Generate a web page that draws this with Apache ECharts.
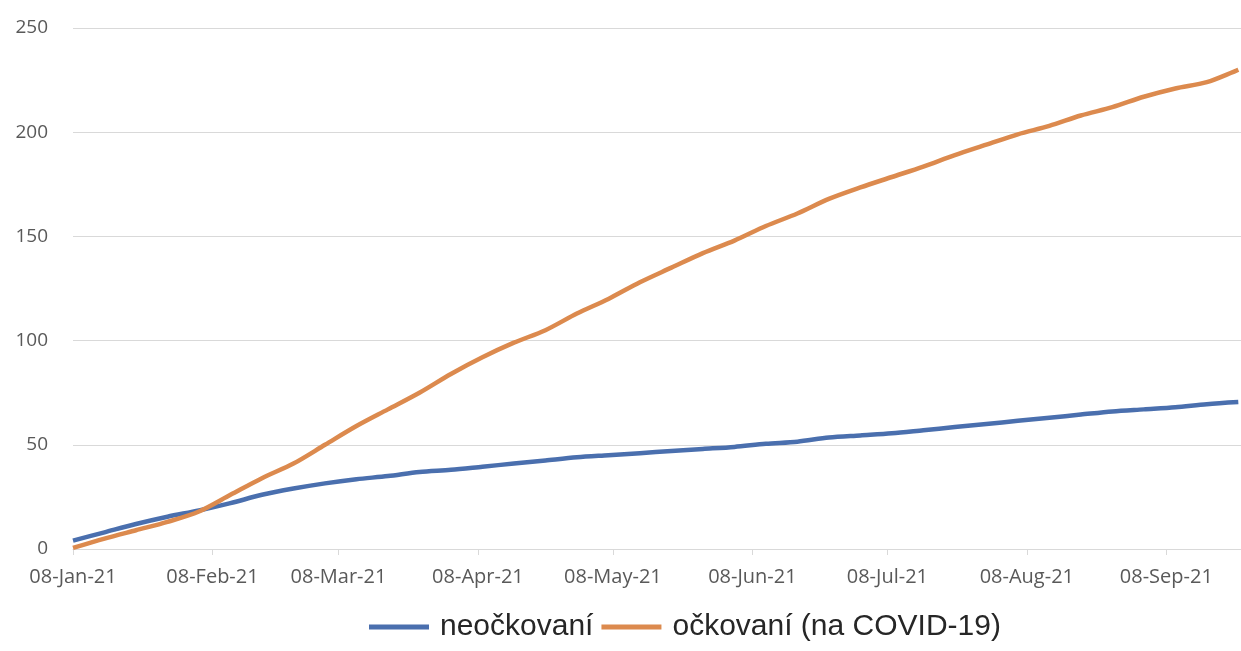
<!DOCTYPE html>
<html>
<head>
<meta charset="utf-8">
<script src="https://cdn.jsdelivr.net/npm/echarts@6/dist/echarts.min.js"></script>
<style>
  html, body { margin: 0; padding: 0; background: #fff; }
  #chart { width: 1241px; height: 651px; }
</style>
</head>
<body>
<div id="chart"></div>
<script>
// weekly readings, starting 8 Jan 2021
const startDate = '2021-01-08'
const neockovani = [4, 8, 12, 15.5, 18.5, 22, 26, 29, 31.5, 33.5, 35, 37, 38, 39.5, 41, 42.5, 44, 45, 46, 47,
  48, 49, 50.5, 51.5, 53.5, 54.5, 55.5, 57, 58.5, 60, 61.5, 63, 64.5, 66, 67, 68, 69.5, 70.5]
const ockovani = [0.5, 5, 9, 13, 18, 26, 34, 41, 50, 59, 67, 75, 84, 92, 99, 105, 113, 120, 128, 135,
  142, 148, 155, 161, 168, 173.5, 178.5, 183.5, 189, 194, 199, 203, 208, 212, 217, 221, 224, 230]
const tickDates = ['2021-01-08', '2021-02-08', '2021-03-08', '2021-04-08', '2021-05-08',
  '2021-06-08', '2021-07-08', '2021-08-08', '2021-09-08']
const tickLabels = ['08-Jan-21', '08-Feb-21', '08-Mar-21', '08-Apr-21', '08-May-21',
  '08-Jun-21', '08-Jul-21', '08-Aug-21', '08-Sep-21']
const seriesNames = ['neočkovaní', 'očkovaní (na COVID-19)']

// x is counted in days since startDate
const DAY = 86400000
const t0 = new Date(startDate + 'T00:00:00Z').getTime()
const toPairs = arr => arr.map((v, i) => [i * 7, v])
const tickDays = tickDates.map(d => Math.round((new Date(d + 'T00:00:00Z').getTime() - t0) / DAY))

let chart = echarts.init(document.getElementById('chart'))
chart.setOption({
  animation: false,
  grid: { left: 73, right: 0, top: 28, bottom: 102 },
  legend: {
    top: 607,
    left: 364,
    itemWidth: 60,
    itemHeight: 5,
    itemGap: 8,
    icon: 'rect',
    textStyle: { fontFamily: 'Liberation Sans', fontSize: 30, color: '#262626', padding: [0, 0, 0, 6] },
    data: seriesNames
  },
  xAxis: {
    type: 'value',
    min: 0,
    max: 259.6,
    axisLine: { show: true, lineStyle: { color: '#d9d9d9', width: 1 } },
    axisTick: { show: true, customValues: tickDays, length: 6, lineStyle: { color: '#d9d9d9' } },
    axisLabel: {
      customValues: tickDays,
      formatter: v => tickLabels[tickDays.indexOf(v)] || '',
      fontFamily: 'Open Sans',
      fontSize: 20,
      color: '#595959',
      margin: 18,
      hideOverlap: false
    },
    splitLine: { show: false }
  },
  yAxis: {
    type: 'value',
    min: 0,
    max: 250,
    interval: 50,
    axisLine: { show: false },
    axisTick: { show: false },
    axisLabel: { fontFamily: 'Open Sans', fontSize: 19, color: '#595959', margin: 25 },
    splitLine: { lineStyle: { color: '#d9d9d9', width: 1 } }
  },
  series: [
    {
      name: seriesNames[0],
      type: 'line',
      data: toPairs(neockovani),
      smooth: 0.3,
      showSymbol: false,
      color: '#4a6fae',
      lineStyle: { width: 4.5 }
    },
    {
      name: seriesNames[1],
      type: 'line',
      data: toPairs(ockovani),
      smooth: 0.3,
      showSymbol: false,
      color: '#dc8a4e',
      lineStyle: { width: 4.5 }
    }
  ]
})
</script>
</body>
</html>
